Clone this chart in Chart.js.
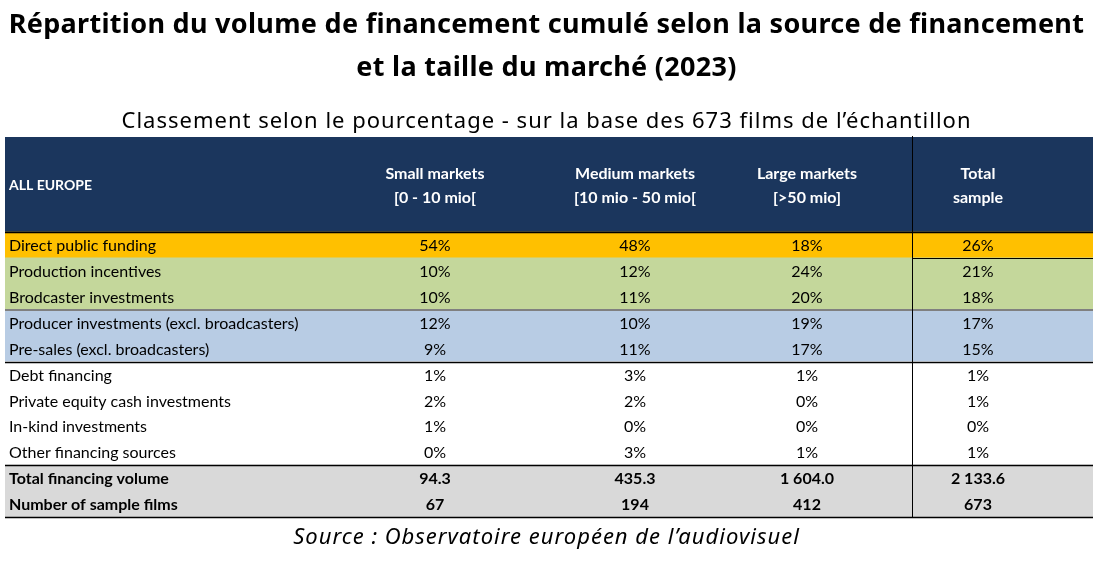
<!DOCTYPE html>
<html lang="fr">
<head>
<meta charset="utf-8">
<title>Répartition du volume de financement cumulé</title>
<script src="https://cdn.jsdelivr.net/npm/chart.js@4.4.1/dist/chart.umd.min.js"></script>
<style>
  html, body { margin: 0; padding: 0; background: #fff; }
  canvas { display: block; }
</style>
</head>
<body>
<canvas id="table1" width="1101" height="561" style="width:1101px;height:561px"></canvas>
<script>
// ============== Data
const sources = [
  'Direct public funding',
  'Production incentives',
  'Brodcaster investments',
  'Producer investments (excl. broadcasters)',
  'Pre-sales (excl. broadcasters)',
  'Debt financing',
  'Private equity cash investments',
  'In-kind investments',
  'Other financing sources'
];
const totalRows = ['Total financing volume', 'Number of sample films'];
const columnHeaders = [
  ['Small markets', '[0 - 10 mio['],
  ['Medium markets', '[10 mio - 50 mio['],
  ['Large markets', '[>50 mio]'],
  ['Total', 'sample']
];
const smallShare = [54, 10, 10, 12, 9, 1, 2, 1, 0];
const mediumShare = [48, 12, 11, 10, 11, 3, 2, 0, 3];
const largeShare = [18, 24, 20, 19, 17, 1, 0, 0, 1];
const totalShare = [26, 21, 18, 17, 15, 1, 1, 0, 1];
const financingVolume = [94.3, 435.3, 1604.0, 2133.6];
const sampleFilms = [67, 194, 412, 673];

// ============== Layout (in scale units)
const TABLE_W = 1088;
const HEADER_H = 95 / 25.9;
const LABEL_X = 4;
const COL_X = [430, 630, 802, 973];
const SPLIT_X = 907;
const ROW_COLORS = ['#FFC000', '#C4D79B', '#C4D79B', '#B8CCE4', '#B8CCE4',
  '#FFFFFF', '#FFFFFF', '#FFFFFF', '#FFFFFF', '#D9D9D9', '#D9D9D9'];
const NAVY = '#1B365D';
const TABLE_FONT = 'Lato, "Open Sans", sans-serif';

const allLabels = sources.concat(totalRows);
const rowY = (i) => HEADER_H + i + 0.5;

const formatCell = (v, row) => {
  if (row < sources.length) return v + '%';
  if (row === sources.length) {
    const parts = v.toFixed(1).split('.');
    return parts[0].replace(/\B(?=(\d{3})+(?!\d))/g, ' ') + '.' + parts[1];
  }
  return String(v);
}

const columnValues = [smallShare, mediumShare, largeShare, totalShare].map((shares, c) =>
  shares.concat([financingVolume[c], sampleFilms[c]])
);

// ============== Plugin drawing header, rules, texts and titles
const tablePlugin = {
  id: 'tableDraw',
  beforeDatasetsDraw(chart) {
    const { ctx, scales: { x, y } } = chart;
    ctx.save();
    ctx.fillStyle = NAVY;
    ctx.fillRect(x.getPixelForValue(0), y.getPixelForValue(0),
      x.getPixelForValue(TABLE_W) - x.getPixelForValue(0),
      y.getPixelForValue(HEADER_H) - y.getPixelForValue(0));
    ctx.restore();
  },
  afterDatasetsDraw(chart) {
    const { ctx, scales: { x, y } } = chart;
    ctx.save();

    // horizontal rules
    const hRule = (v, x0, x1, color, w) => {
      const py = Math.round(y.getPixelForValue(v)) + (w % 2 ? 0.5 : 0);
      ctx.strokeStyle = color;
      ctx.lineWidth = w;
      ctx.beginPath();
      ctx.moveTo(x.getPixelForValue(x0), py);
      ctx.lineTo(x.getPixelForValue(x1), py);
      ctx.stroke();
    }
    hRule(HEADER_H, 0, TABLE_W, '#000', 1.5);
    hRule(HEADER_H + 1, SPLIT_X, TABLE_W, '#000', 1);
    hRule(HEADER_H + 3, 0, TABLE_W, '#808080', 2);
    hRule(HEADER_H + 5, 0, TABLE_W, '#000', 1.5);
    hRule(HEADER_H + 9, 0, TABLE_W, '#000', 1.5);
    hRule(HEADER_H + 11, 0, TABLE_W, '#000', 1.5);

    // vertical rule before total column
    const px = Math.round(x.getPixelForValue(SPLIT_X)) + 0.5;
    ctx.strokeStyle = '#000';
    ctx.lineWidth = 1;
    ctx.beginPath();
    ctx.moveTo(px, y.getPixelForValue(0) - 1);
    ctx.lineTo(px, y.getPixelForValue(HEADER_H + 11));
    ctx.stroke();

    // header texts
    const hy = y.getPixelForValue(HEADER_H / 2);
    ctx.fillStyle = '#FFFFFF';
    ctx.textBaseline = 'middle';
    ctx.font = 'bold 14px ' + TABLE_FONT;
    ctx.textAlign = 'left';
    ctx.fillText('ALL EUROPE', x.getPixelForValue(LABEL_X), hy + 1);
    ctx.font = 'bold 16px ' + TABLE_FONT;
    ctx.textAlign = 'center';
    columnHeaders.forEach((lines, c) => {
      ctx.fillText(lines[0], x.getPixelForValue(COL_X[c]), hy - 11);
      ctx.fillText(lines[1], x.getPixelForValue(COL_X[c]), hy + 13);
    });

    // cell texts, placed on the scatter points
    ctx.fillStyle = '#000';
    chart.data.datasets.forEach((ds, i) => {
      if (!ds.cellTexts) return;
      const meta = chart.getDatasetMeta(i);
      ctx.textAlign = ds.align;
      meta.data.forEach((pt, j) => {
        ctx.font = (j >= sources.length ? 'bold ' : '') + '16px ' + TABLE_FONT;
        ctx.fillText(ds.cellTexts[j], pt.x, pt.y + 1);
      });
    });
    ctx.restore();
  },
  afterDraw(chart) {
    const { ctx, width } = chart;
    const cx = width / 2 - 4;
    ctx.save();
    ctx.fillStyle = '#000';
    ctx.textAlign = 'center';
    ctx.textBaseline = 'middle';
    ctx.font = 'bold 27px "Noto Sans", sans-serif';
    ctx.letterSpacing = '0.3px';
    ctx.fillText('Répartition du volume de financement cumulé selon la source de financement', cx, 25);
    ctx.fillText('et la taille du marché (2023)', cx, 68);
    ctx.font = '22px "Noto Sans", sans-serif';
    ctx.letterSpacing = '1px';
    ctx.fillText('Classement selon le pourcentage - sur la base des 673 films de l\u2019échantillon', cx, 122);
    ctx.font = 'italic 22px "Noto Sans", sans-serif';
    ctx.letterSpacing = '1px';
    ctx.fillText('Source : Observatoire européen de l\u2019audiovisuel', cx, 538);
    ctx.restore();
  }
};

// ============== Chart
document.addEventListener('DOMContentLoaded', () => {
  createTable();
});

const createTable = () => {
  const ctx = document.getElementById('table1').getContext('2d');

  const datasets = [{
    type: 'bar',
    indexAxis: 'y',
    data: allLabels.map((_, i) => ({ x: [0, TABLE_W], y: rowY(i) })),
    backgroundColor: ROW_COLORS,
    borderWidth: 0,
    barPercentage: 1,
    categoryPercentage: 1,
  }, {
    type: 'scatter',
    data: allLabels.map((_, i) => ({ x: LABEL_X, y: rowY(i) })),
    cellTexts: allLabels,
    align: 'left',
    pointRadius: 0,
  }];

  columnValues.forEach((values, c) => {
    datasets.push({
      type: 'scatter',
      data: values.map((_, i) => ({ x: COL_X[c], y: rowY(i) })),
      cellTexts: values.map((v, i) => formatCell(v, i)),
      align: 'center',
      pointRadius: 0,
    });
  });

  const config = {
    type: 'bar',
    data: { datasets: datasets },
    options: {
      responsive: false,
      animation: false,
      events: [],
      layout: {
        padding: { left: 5, right: 8, top: 137, bottom: 44 }
      },
      plugins: {
        legend: { display: false },
        title: { display: false },
        tooltip: { enabled: false }
      },
      scales: {
        x: { type: 'linear', display: false, min: 0, max: TABLE_W, offset: false },
        y: {
          type: 'linear', display: false, reverse: true, min: 0, max: HEADER_H + 11, offset: false,
          ticks: { stepSize: 100 }
        }
      }
    },
    plugins: [tablePlugin]
  };

  const newChart = new Chart(ctx, config);
}
</script>
</body>
</html>
